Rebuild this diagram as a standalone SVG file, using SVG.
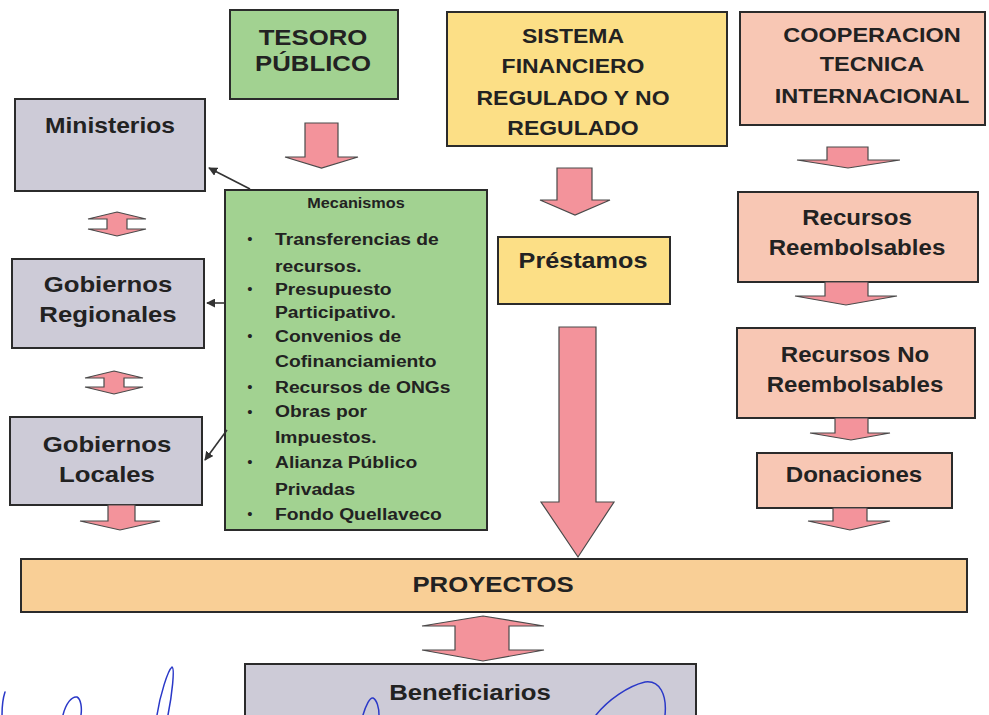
<svg xmlns="http://www.w3.org/2000/svg" width="989" height="715" viewBox="0 0 989 715">
<style>
.box{stroke:#2b2b2b;stroke-width:2}
.gray{fill:#cdcbd7}
.green{fill:#a2d291}
.yellow{fill:#fcdf86}
.salmon{fill:#f8c7b4}
.orange{fill:#f9cf96}
.t{font-family:"Liberation Sans",Arial,sans-serif;font-weight:bold;fill:#222;text-anchor:middle}
.l{font-family:"Liberation Sans",Arial,sans-serif;font-weight:bold;fill:#222;font-size:17.2px}
.b{font-family:"Liberation Sans",Arial,sans-serif;fill:#222;font-size:15px;text-anchor:middle}
.arrow{fill:#f3939b;stroke:#4a4a4a;stroke-width:1.2;stroke-linejoin:miter}
.conn{stroke:#333;stroke-width:1.6;fill:none;marker-end:url(#ah)}
.sig{fill:none;stroke:#2a38c8;stroke-width:1.5;stroke-linecap:round}
</style>
<defs>
<marker id="ah" viewBox="0 0 10 10" refX="9" refY="5" markerWidth="9" markerHeight="9" markerUnits="userSpaceOnUse" orient="auto">
<path d="M0,0 L10,5 L0,10 Z" fill="#333"/>
</marker>
</defs>
<rect width="989" height="715" fill="#ffffff"/>

<g id="tesoro">
<rect class="box green" x="230" y="10" width="168" height="89"/>
<g transform="translate(313,0) scale(1.12,1)">
<text class="t" x="0" y="45" font-size="23">TESORO</text>
<text class="t" x="0" y="71" font-size="23">PÚBLICO</text>
</g>
</g>

<g id="sistema">
<rect class="box yellow" x="447" y="12" width="280" height="134"/>
<g transform="translate(573,0) scale(1.12,1)">
<text class="t" x="0" y="43" font-size="20.5">SISTEMA</text>
<text class="t" x="0" y="73" font-size="20.5">FINANCIERO</text>
<text class="t" x="0" y="105" font-size="20.5">REGULADO Y NO</text>
<text class="t" x="0" y="135" font-size="20.5">REGULADO</text>
</g>
</g>

<g id="cooperacion">
<rect class="box salmon" x="740" y="12" width="245" height="113"/>
<g transform="translate(872,0) scale(1.12,1)">
<text class="t" x="0" y="42" font-size="21">COOPERACION</text>
<text class="t" x="0" y="71" font-size="21">TECNICA</text>
<text class="t" x="0" y="103" font-size="21">INTERNACIONAL</text>
</g>
</g>

<g id="ministerios">
<rect class="box gray" x="15" y="99" width="190" height="92"/>
<g transform="translate(110,0) scale(1.12,1)">
<text class="t" x="0" y="133" font-size="22">Ministerios</text>
</g>
</g>

<g id="gobiernos-regionales">
<rect class="box gray" x="12" y="259" width="192" height="89"/>
<g transform="translate(108,0) scale(1.12,1)">
<text class="t" x="0" y="292" font-size="23">Gobiernos</text>
<text class="t" x="0" y="322" font-size="23">Regionales</text>
</g>
</g>

<g id="gobiernos-locales">
<rect class="box gray" x="10" y="417" width="192" height="88"/>
<g transform="translate(107,0) scale(1.12,1)">
<text class="t" x="0" y="452" font-size="23">Gobiernos</text>
<text class="t" x="0" y="482" font-size="23">Locales</text>
</g>
</g>

<g id="mecanismos">
<rect class="box green" x="225" y="190" width="262" height="340"/>
<g transform="translate(356,0) scale(1.12,1)">
<text class="t" x="0" y="208" font-size="14.5">Mecanismos</text>
</g>
<text class="b" x="250" y="244">•</text>
<text class="b" x="250" y="294">•</text>
<text class="b" x="250" y="341">•</text>
<text class="b" x="250" y="392">•</text>
<text class="b" x="250" y="417">•</text>
<text class="b" x="250" y="467">•</text>
<text class="b" x="250" y="519">•</text>
<g transform="translate(275,0) scale(1.12,1)">
<text class="l" x="0" y="245">Transferencias de</text>
<text class="l" x="0" y="272">recursos.</text>
<text class="l" x="0" y="295">Presupuesto</text>
<text class="l" x="0" y="318">Participativo.</text>
<text class="l" x="0" y="342"> Convenios de</text>
<text class="l" x="0" y="367">Cofinanciamiento</text>
<text class="l" x="0" y="393">Recursos de ONGs</text>
<text class="l" x="0" y="417">Obras por</text>
<text class="l" x="0" y="443">Impuestos.</text>
<text class="l" x="0" y="468">Alianza Público</text>
<text class="l" x="0" y="495">Privadas</text>
<text class="l" x="0" y="520">Fondo Quellaveco</text>
</g>
</g>

<g id="prestamos">
<rect class="box yellow" x="498" y="237" width="172" height="67"/>
<g transform="translate(583,0) scale(1.12,1)">
<text class="t" x="0" y="268" font-size="22.5">Préstamos</text>
</g>
</g>

<g id="recursos-reembolsables">
<rect class="box salmon" x="738" y="192" width="240" height="90"/>
<g transform="translate(857,0) scale(1.12,1)">
<text class="t" x="0" y="225" font-size="21.5">Recursos</text>
<text class="t" x="0" y="255" font-size="21.5">Reembolsables</text>
</g>
</g>

<g id="recursos-no-reembolsables">
<rect class="box salmon" x="737" y="328" width="238" height="90"/>
<g transform="translate(855,0) scale(1.12,1)">
<text class="t" x="0" y="362" font-size="21.5">Recursos No</text>
<text class="t" x="0" y="392" font-size="21.5">Reembolsables</text>
</g>
</g>

<g id="donaciones">
<rect class="box salmon" x="757" y="453" width="195" height="55"/>
<g transform="translate(854,0) scale(1.12,1)">
<text class="t" x="0" y="482" font-size="21.5">Donaciones</text>
</g>
</g>

<g id="proyectos">
<rect class="box orange" x="21" y="559" width="946" height="53"/>
<g transform="translate(493,0) scale(1.12,1)">
<text class="t" x="0" y="592" font-size="23">PROYECTOS</text>
</g>
</g>

<g id="beneficiarios">
<rect class="box gray" x="245" y="664" width="451" height="60"/>
<g transform="translate(470,0) scale(1.12,1)">
<text class="t" x="0" y="700" font-size="23">Beneficiarios</text>
</g>
</g>

<g id="connectors">
<path class="arrow" d="M305,123 H338 V157 H358 L321.5,168 L285,157 H305 Z"/>
<path class="arrow" d="M557,168 H592 V200 H610 L575,215 L540,200 H557 Z"/>
<path class="arrow" d="M827,147 H868 V160 H900 L848,168 L797,160 H827 Z"/>
<path class="arrow" d="M825,282 H868 V296 H897 L846,305 L795,296 H825 Z"/>
<path class="arrow" d="M835,418 H868 V433 H890 L851,440 L810,433 H835 Z"/>
<path class="arrow" d="M833,508 H867 V521 H890 L850,530 L808,521 H833 Z"/>
<path class="arrow" d="M559,327 H596 V502 H614 L578,557 L541,502 H559 Z"/>
<path class="arrow" d="M108,505 H135 V521 H160 L120,530 L80,521 H108 Z"/>
<path class="arrow" d="M117,212 L146,219 H127 V229 H146 L117,236 L88,229 H107 V219 H88 Z"/>
<path class="arrow" d="M114,371 L143,378 H124 V387 H143 L114,394 L85,387 H104 V378 H85 Z"/>
<path class="arrow" d="M483,616 L544,626 H509 V650 H544 L483,661 L422,650 H455 V626 H422 Z"/>
<path class="conn" d="M250,189 L209,168"/>
<path class="conn" d="M225,303 L207,303"/>
<path class="conn" d="M227,430 L205,460"/>
</g>

<g id="signature">
<path class="sig" d="M2,715 C2,705 3,698 5,692"/>
<path class="sig" d="M63,715 C66,703 72,696 77,697 C81,699 82,708 81,715"/>
<path class="sig" d="M157,715 C160,695 168,670 172,667 C175,668 172,695 168,715"/>
<path class="sig" d="M363,715 C366,705 370,697 373,698 C377,700 379,708 379,715"/>
<path class="sig" d="M596,715 C608,700 628,686 645,682 C660,680 667,695 665,715"/>
</g>
</svg>
